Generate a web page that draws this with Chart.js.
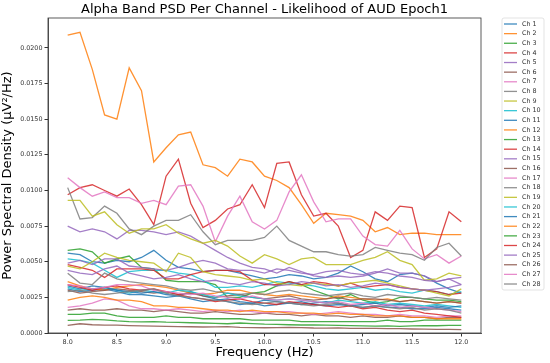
<!DOCTYPE html>
<html>
<head>
<meta charset="utf-8">
<script src="https://cdn.jsdelivr.net/npm/chart.js@4.4.1/dist/chart.umd.min.js"></script>
<style>
html, body { margin: 0; padding: 0; background: #fff; }
</style>
</head>
<body>
<canvas id="psdChart" width="550" height="363"></canvas>
<script>
// frequency bins (Hz)
const freqs = [8.0, 8.125, 8.25, 8.375, 8.5, 8.625, 8.75, 8.875, 9.0, 9.125, 9.25, 9.375, 9.5, 9.625, 9.75, 9.875,
    10.0, 10.125, 10.25, 10.375, 10.5, 10.625, 10.75, 10.875, 11.0, 11.125, 11.25, 11.375, 11.5, 11.625, 11.75, 11.875, 12.0];

const xTicks = [8.0, 8.5, 9.0, 9.5, 10.0, 10.5, 11.0, 11.5, 12.0];
const yTicks = [0, 0.0025, 0.005, 0.0075, 0.01, 0.0125, 0.015, 0.0175, 0.02];

const ch1 = [0.0056, 0.0055, 0.0050, 0.0049, 0.0051, 0.0050, 0.0053, 0.0058, 0.0051, 0.0046, 0.0045, 0.0043, 0.0044, 0.0044, 0.0042, 0.0040, 0.0038,
    0.0039, 0.0041, 0.0040, 0.0038, 0.0039, 0.0042, 0.0047, 0.0043, 0.0038, 0.0036, 0.0041, 0.0042, 0.0040, 0.0035, 0.0031, 0.0028];
const ch2 = [0.0209, 0.0211, 0.0185, 0.0153, 0.0150, 0.0186, 0.0170, 0.0120, 0.0130, 0.0139, 0.0141, 0.0118, 0.0116, 0.0110, 0.0122, 0.0120, 0.0110,
    0.0107, 0.0102, 0.0090, 0.0077, 0.0084, 0.0083, 0.0082, 0.0079, 0.0071, 0.0074, 0.0069, 0.0070, 0.0070, 0.0069, 0.0069, 0.0069];
const ch3 = [0.0058, 0.0059, 0.0057, 0.0049, 0.0052, 0.0054, 0.0046, 0.0045, 0.0037, 0.0036, 0.0036, 0.0036, 0.0034, 0.0025, 0.0025, 0.0028, 0.0029,
    0.0033, 0.0036, 0.0034, 0.0030, 0.0027, 0.0024, 0.0027, 0.0023, 0.0021, 0.0022, 0.0025, 0.0025, 0.0024, 0.0023, 0.0023, 0.0022];
const ch4 = [0.0097, 0.0102, 0.0104, 0.0100, 0.0096, 0.0101, 0.0090, 0.0076, 0.0110, 0.0122, 0.0091, 0.0074, 0.0079, 0.0087, 0.0090, 0.0104, 0.0088,
    0.0119, 0.0120, 0.0097, 0.0082, 0.0084, 0.0075, 0.0053, 0.0058, 0.0085, 0.0079, 0.0089, 0.0088, 0.0053, 0.0059, 0.0085, 0.0078];
const ch5 = [0.0075, 0.0071, 0.0073, 0.0071, 0.0066, 0.0072, 0.0072, 0.0071, 0.0069, 0.0071, 0.0068, 0.0063, 0.0058, 0.0053, 0.0049, 0.0046, 0.0045,
    0.0042, 0.0046, 0.0043, 0.0040, 0.0039, 0.0040, 0.0039, 0.0040, 0.0042, 0.0045, 0.0042, 0.0042, 0.0040, 0.0036, 0.0038, 0.0039];
const ch6 = [0.0016, 0.0017, 0.0016, 0.0016, 0.0017, 0.0016, 0.0016, 0.0015, 0.0016, 0.0015, 0.0014, 0.0014, 0.0015, 0.0014, 0.0013, 0.0013, 0.0014,
    0.0013, 0.0013, 0.0012, 0.0013, 0.0012, 0.0012, 0.0011, 0.0012, 0.0011, 0.0011, 0.0012, 0.0011, 0.0011, 0.0010, 0.0011, 0.0011];
const ch7 = [0.0109, 0.0102, 0.0096, 0.0099, 0.0095, 0.0095, 0.0091, 0.0093, 0.0090, 0.0103, 0.0104, 0.0089, 0.0064, 0.0082, 0.0096, 0.0078, 0.0073,
    0.0079, 0.0099, 0.0111, 0.0092, 0.0078, 0.0080, 0.0080, 0.0068, 0.0062, 0.0061, 0.0072, 0.0059, 0.0052, 0.0055, 0.0049, 0.0054];
const ch8 = [0.0102, 0.0080, 0.0081, 0.0089, 0.0084, 0.0073, 0.0069, 0.0075, 0.0079, 0.0079, 0.0083, 0.0071, 0.0062, 0.0065, 0.0065, 0.0065, 0.0067,
    0.0075, 0.0065, 0.0061, 0.0057, 0.0057, 0.0055, 0.0054, 0.0055, 0.0060, 0.0058, 0.0056, 0.0055, 0.0051, 0.0060, 0.0063, 0.0054];
const ch9 = [0.0093, 0.0093, 0.0082, 0.0085, 0.0076, 0.0070, 0.0073, 0.0073, 0.0076, 0.0070, 0.0066, 0.0063, 0.0065, 0.0061, 0.0054, 0.0049, 0.0055,
    0.0052, 0.0048, 0.0052, 0.0053, 0.0048, 0.0048, 0.0048, 0.0051, 0.0053, 0.0057, 0.0051, 0.0048, 0.0037, 0.0038, 0.0042, 0.0040];
const ch10 = [0.0052, 0.0051, 0.0049, 0.0044, 0.0039, 0.0043, 0.0044, 0.0044, 0.0044, 0.0042, 0.0041, 0.0037, 0.0032, 0.0032, 0.0033, 0.0032, 0.0034,
    0.0036, 0.0035, 0.0034, 0.0033, 0.0031, 0.0030, 0.0031, 0.0032, 0.0030, 0.0031, 0.0029, 0.0028, 0.0030, 0.0029, 0.0027, 0.0029];
const ch11 = [0.0031, 0.0029, 0.0030, 0.0031, 0.0029, 0.0027, 0.0027, 0.0026, 0.0025, 0.0026, 0.0029, 0.0026, 0.0024, 0.0022, 0.0020, 0.0021, 0.0019,
    0.0020, 0.0021, 0.0022, 0.0020, 0.0019, 0.0020, 0.0019, 0.0018, 0.0019, 0.0018, 0.0018, 0.0017, 0.0017, 0.0018, 0.0017, 0.0016];
const ch12 = [0.0036, 0.0033, 0.0031, 0.0030, 0.0032, 0.0033, 0.0034, 0.0033, 0.0032, 0.0030, 0.0028, 0.0027, 0.0028, 0.0030, 0.0030, 0.0028, 0.0027,
    0.0026, 0.0027, 0.0026, 0.0025, 0.0024, 0.0026, 0.0025, 0.0024, 0.0023, 0.0024, 0.0022, 0.0023, 0.0022, 0.0021, 0.0022, 0.0021];
const ch13 = [0.0013, 0.0013, 0.0014, 0.0014, 0.0012, 0.0011, 0.0011, 0.0011, 0.0012, 0.0011, 0.0011, 0.0010, 0.0010, 0.0010, 0.0010, 0.0009, 0.0009,
    0.0009, 0.0009, 0.0008, 0.0008, 0.0008, 0.0008, 0.0008, 0.0008, 0.0008, 0.0009, 0.0008, 0.0008, 0.0009, 0.0009, 0.0009, 0.0009];
const ch14 = [0.0048, 0.0046, 0.0044, 0.0039, 0.0045, 0.0045, 0.0045, 0.0044, 0.0038, 0.0038, 0.0041, 0.0043, 0.0044, 0.0044, 0.0043, 0.0037, 0.0034,
    0.0034, 0.0036, 0.0034, 0.0036, 0.0035, 0.0033, 0.0035, 0.0032, 0.0033, 0.0034, 0.0032, 0.0031, 0.0030, 0.0029, 0.0027, 0.0028];
const ch15 = [0.0049, 0.0051, 0.0048, 0.0052, 0.0052, 0.0047, 0.0046, 0.0045, 0.0044, 0.0046, 0.0049, 0.0051, 0.0049, 0.0045, 0.0044, 0.0044, 0.0042,
    0.0045, 0.0044, 0.0042, 0.0041, 0.0043, 0.0044, 0.0042, 0.0041, 0.0043, 0.0042, 0.0040, 0.0039, 0.0037, 0.0036, 0.0038, 0.0034];
const ch16 = [0.0030, 0.0028, 0.0029, 0.0030, 0.0031, 0.0030, 0.0029, 0.0028, 0.0029, 0.0027, 0.0028, 0.0026, 0.0025, 0.0026, 0.0027, 0.0025, 0.0024,
    0.0025, 0.0026, 0.0024, 0.0023, 0.0024, 0.0025, 0.0023, 0.0024, 0.0024, 0.0023, 0.0022, 0.0023, 0.0022, 0.0021, 0.0022, 0.0021];
const ch17 = [0.0018, 0.0019, 0.0021, 0.0024, 0.0023, 0.0019, 0.0017, 0.0017, 0.0016, 0.0017, 0.0016, 0.0015, 0.0016, 0.0015, 0.0016, 0.0015, 0.0014,
    0.0015, 0.0015, 0.0014, 0.0013, 0.0014, 0.0015, 0.0014, 0.0013, 0.0013, 0.0012, 0.0013, 0.0012, 0.0012, 0.0011, 0.0012, 0.0012];
const ch18 = [0.0042, 0.0035, 0.0034, 0.0042, 0.0038, 0.0036, 0.0035, 0.0034, 0.0033, 0.0031, 0.0030, 0.0031, 0.0029, 0.0028, 0.0027, 0.0028, 0.0027,
    0.0029, 0.0030, 0.0028, 0.0027, 0.0026, 0.0027, 0.0028, 0.0026, 0.0025, 0.0027, 0.0026, 0.0025, 0.0024, 0.0025, 0.0024, 0.0023];
const ch19 = [0.0047, 0.0045, 0.0050, 0.0056, 0.0053, 0.0051, 0.0050, 0.0049, 0.0043, 0.0056, 0.0053, 0.0043, 0.0041, 0.0040, 0.0039, 0.0037, 0.0038,
    0.0035, 0.0034, 0.0033, 0.0035, 0.0034, 0.0033, 0.0035, 0.0036, 0.0037, 0.0035, 0.0033, 0.0031, 0.0030, 0.0028, 0.0026, 0.0031];
const ch20 = [0.0032, 0.0030, 0.0031, 0.0032, 0.0030, 0.0028, 0.0030, 0.0029, 0.0028, 0.0030, 0.0029, 0.0027, 0.0025, 0.0028, 0.0026, 0.0025, 0.0024,
    0.0023, 0.0024, 0.0023, 0.0022, 0.0021, 0.0023, 0.0022, 0.0021, 0.0022, 0.0020, 0.0021, 0.0020, 0.0019, 0.0020, 0.0019, 0.0018];
const ch21 = [0.0033, 0.0031, 0.0033, 0.0032, 0.0030, 0.0029, 0.0028, 0.0029, 0.0027, 0.0026, 0.0024, 0.0022, 0.0023, 0.0024, 0.0022, 0.0021, 0.0023,
    0.0022, 0.0021, 0.0020, 0.0021, 0.0022, 0.0021, 0.0019, 0.0020, 0.0021, 0.0019, 0.0020, 0.0019, 0.0018, 0.0019, 0.0018, 0.0019];
const ch22 = [0.0023, 0.0025, 0.0026, 0.0025, 0.0023, 0.0023, 0.0022, 0.0019, 0.0019, 0.0018, 0.0018, 0.0017, 0.0016, 0.0016, 0.0015, 0.0016, 0.0015,
    0.0015, 0.0014, 0.0014, 0.0014, 0.0013, 0.0014, 0.0013, 0.0013, 0.0012, 0.0012, 0.0012, 0.0011, 0.0011, 0.0010, 0.0010, 0.0010];
const ch23 = [0.00088, 0.00090, 0.00095, 0.00092, 0.00085, 0.00080, 0.00078, 0.00080, 0.00076, 0.00074, 0.00072, 0.00070, 0.00068, 0.00065, 0.00070, 0.00066, 0.00062,
    0.00060, 0.00058, 0.00056, 0.00057, 0.00055, 0.00053, 0.00052, 0.00050, 0.00048, 0.00050, 0.00047, 0.00050, 0.00052, 0.00051, 0.00053, 0.00053];
const ch24 = [0.0034, 0.0032, 0.0030, 0.0032, 0.0033, 0.0031, 0.0030, 0.0031, 0.0029, 0.0027, 0.0025, 0.0024, 0.0022, 0.0023, 0.0024, 0.0022, 0.0021,
    0.0020, 0.0022, 0.0021, 0.0020, 0.0019, 0.0018, 0.0019, 0.0017, 0.0018, 0.0016, 0.0015, 0.0016, 0.0014, 0.0013, 0.0012, 0.0011];
const ch25 = [0.0044, 0.0042, 0.0041, 0.0045, 0.0047, 0.0042, 0.0040, 0.0038, 0.0039, 0.0041, 0.0038, 0.0036, 0.0037, 0.0035, 0.0034, 0.0036, 0.0035,
    0.0033, 0.0034, 0.0036, 0.0035, 0.0033, 0.0034, 0.0032, 0.0033, 0.0035, 0.0034, 0.0032, 0.0031, 0.0030, 0.0031, 0.0032, 0.0034];
const ch26 = [0.00053, 0.00065, 0.00058, 0.00055, 0.00055, 0.00052, 0.00050, 0.00048, 0.00046, 0.00045, 0.00044, 0.00042, 0.00043, 0.00045, 0.00040, 0.00038, 0.00037,
    0.00038, 0.00040, 0.00038, 0.00035, 0.00034, 0.00036, 0.00033, 0.00032, 0.00033, 0.00030, 0.00030, 0.00028, 0.00027, 0.00026, 0.00025, 0.00023];
const ch27 = [0.0034, 0.0033, 0.0031, 0.0032, 0.0034, 0.0034, 0.0033, 0.0030, 0.0029, 0.0028, 0.0027, 0.0028, 0.0026, 0.0025, 0.0024, 0.0026, 0.0024,
    0.0023, 0.0024, 0.0023, 0.0022, 0.0021, 0.0022, 0.0020, 0.0021, 0.0019, 0.0020, 0.0018, 0.0019, 0.0018, 0.0017, 0.0016, 0.0015];
const ch28 = [0.0029, 0.0030, 0.0028, 0.0027, 0.0028, 0.0029, 0.0030, 0.0031, 0.0028, 0.0026, 0.0025, 0.0024, 0.0023, 0.0022, 0.0021, 0.0020, 0.0021,
    0.0022, 0.0021, 0.0020, 0.0019, 0.0020, 0.0021, 0.0019, 0.0018, 0.0019, 0.0018, 0.0017, 0.0018, 0.0016, 0.0017, 0.0016, 0.0014];

const channelNames = ['Ch 1', 'Ch 2', 'Ch 3', 'Ch 4', 'Ch 5', 'Ch 6', 'Ch 7', 'Ch 8', 'Ch 9', 'Ch 10', 'Ch 11', 'Ch 12', 'Ch 13', 'Ch 14',
    'Ch 15', 'Ch 16', 'Ch 17', 'Ch 18', 'Ch 19', 'Ch 20', 'Ch 21', 'Ch 22', 'Ch 23', 'Ch 24', 'Ch 25', 'Ch 26', 'Ch 27', 'Ch 28'];
const channelValues = [ch1, ch2, ch3, ch4, ch5, ch6, ch7, ch8, ch9, ch10, ch11, ch12, ch13, ch14,
    ch15, ch16, ch17, ch18, ch19, ch20, ch21, ch22, ch23, ch24, ch25, ch26, ch27, ch28];

const titleText = 'Alpha Band PSD Per Channel - Likelihood of AUD Epoch1';

// matplotlib tab10
const palette = ['rgba(31,119,180,0.85)', 'rgba(255,127,14,0.85)', 'rgba(44,160,44,0.85)', 'rgba(214,39,40,0.85)', 'rgba(148,103,189,0.85)',
    'rgba(140,86,75,0.85)', 'rgba(227,119,194,0.85)', 'rgba(127,127,127,0.85)', 'rgba(188,189,34,0.85)', 'rgba(23,190,207,0.85)'];

const FONT = 'DejaVu Sans';

const datasets = channelValues.map(function (vals, i) {
    return {
        label: channelNames[i],
        data: vals.map(function (v, j) { return {x: freqs[j], y: v}; }),
        borderColor: palette[i % 10],
        backgroundColor: palette[i % 10],
        borderWidth: 1.3,
        pointRadius: 0,
        tension: 0,
        fill: false,
        order: -i
    };
});

// frame, title and legend drawn straight on the canvas
const decorPlugin = {
    id: 'decor',
    afterDatasetsDraw(chart) {
        const a = chart.chartArea;
        const ctx = chart.ctx;
        ctx.save();
        ctx.strokeStyle = '#333';
        ctx.lineWidth = 0.8;
        ctx.strokeRect(a.left, a.top, a.right - a.left, a.bottom - a.top);
        ctx.restore();
    },
    afterDraw(chart) {
        const a = chart.chartArea;
        const ctx = chart.ctx;
        ctx.save();
        ctx.fillStyle = '#000';
        ctx.font = '13px "' + FONT + '"';
        ctx.textAlign = 'center';
        ctx.textBaseline = 'middle';
        ctx.fillText(titleText, (a.left + a.right) / 2, 10);

        // legend box
        const lx = 502, ly = 18, lw = 42, lh = 272;
        ctx.beginPath();
        ctx.roundRect(lx, ly, lw, lh, 2);
        ctx.fillStyle = 'rgba(255,255,255,0.8)';
        ctx.fill();
        ctx.strokeStyle = '#dcdcdc';
        ctx.lineWidth = 0.8;
        ctx.stroke();
        ctx.font = '6.4px "' + FONT + '"';
        ctx.textAlign = 'left';
        for (let i = 0; i < channelNames.length; i++) {
            const y = 24 + i * 9.63;
            ctx.strokeStyle = palette[i % 10];
            ctx.lineWidth = 1.3;
            ctx.beginPath();
            ctx.moveTo(504, y);
            ctx.lineTo(517, y);
            ctx.stroke();
            ctx.fillStyle = '#333';
            ctx.fillText(channelNames[i], 522, y);
        }
        ctx.restore();
    }
};

const psdChart = new Chart(document.getElementById('psdChart').getContext('2d'), {
    type: 'line',
    data: {datasets: datasets},
    options: {
        responsive: false,
        animation: false,
        devicePixelRatio: 1,
        layout: {padding: {top: 18, right: 69, left: 0, bottom: 0}},
        plugins: {
            legend: {display: false},
            title: {display: false},
            tooltip: {enabled: false}
        },
        scales: {
            x: {
                type: 'linear',
                min: 7.8,
                max: 12.2,
                afterBuildTicks: function (s) { s.ticks = xTicks.map(function (v) { return {value: v}; }); },
                afterFit: function (s) { s.height = 30; },
                ticks: {
                    callback: function (v) { return v.toFixed(1); },
                    font: {family: FONT, size: 6.4},
                    color: '#333',
                    padding: 2,
                    maxRotation: 0,
                    autoSkip: false
                },
                grid: {drawOnChartArea: false, drawTicks: true, tickLength: 3.5, tickColor: '#333'},
                border: {color: '#333', width: 0.8},
                title: {display: true, text: 'Frequency (Hz)', font: {family: FONT, size: 13}, color: '#000', padding: {top: 0, bottom: 3}}
            },
            y: {
                type: 'linear',
                min: 0,
                max: 0.0221,
                afterBuildTicks: function (s) { s.ticks = yTicks.map(function (v) { return {value: v}; }); },
                afterFit: function (s) { s.width = 48; },
                ticks: {
                    callback: function (v) { return v.toFixed(4); },
                    font: {family: FONT, size: 6.4},
                    color: '#333',
                    padding: 2,
                    autoSkip: false
                },
                grid: {drawOnChartArea: false, drawTicks: true, tickLength: 3.5, tickColor: '#333'},
                border: {color: '#333', width: 0.8},
                title: {display: true, text: 'Power Spectral Density (μV²/Hz)', font: {family: FONT, size: 13}, color: '#000', padding: 0}
            }
        }
    },
    plugins: [decorPlugin]
});
</script>
</body>
</html>
